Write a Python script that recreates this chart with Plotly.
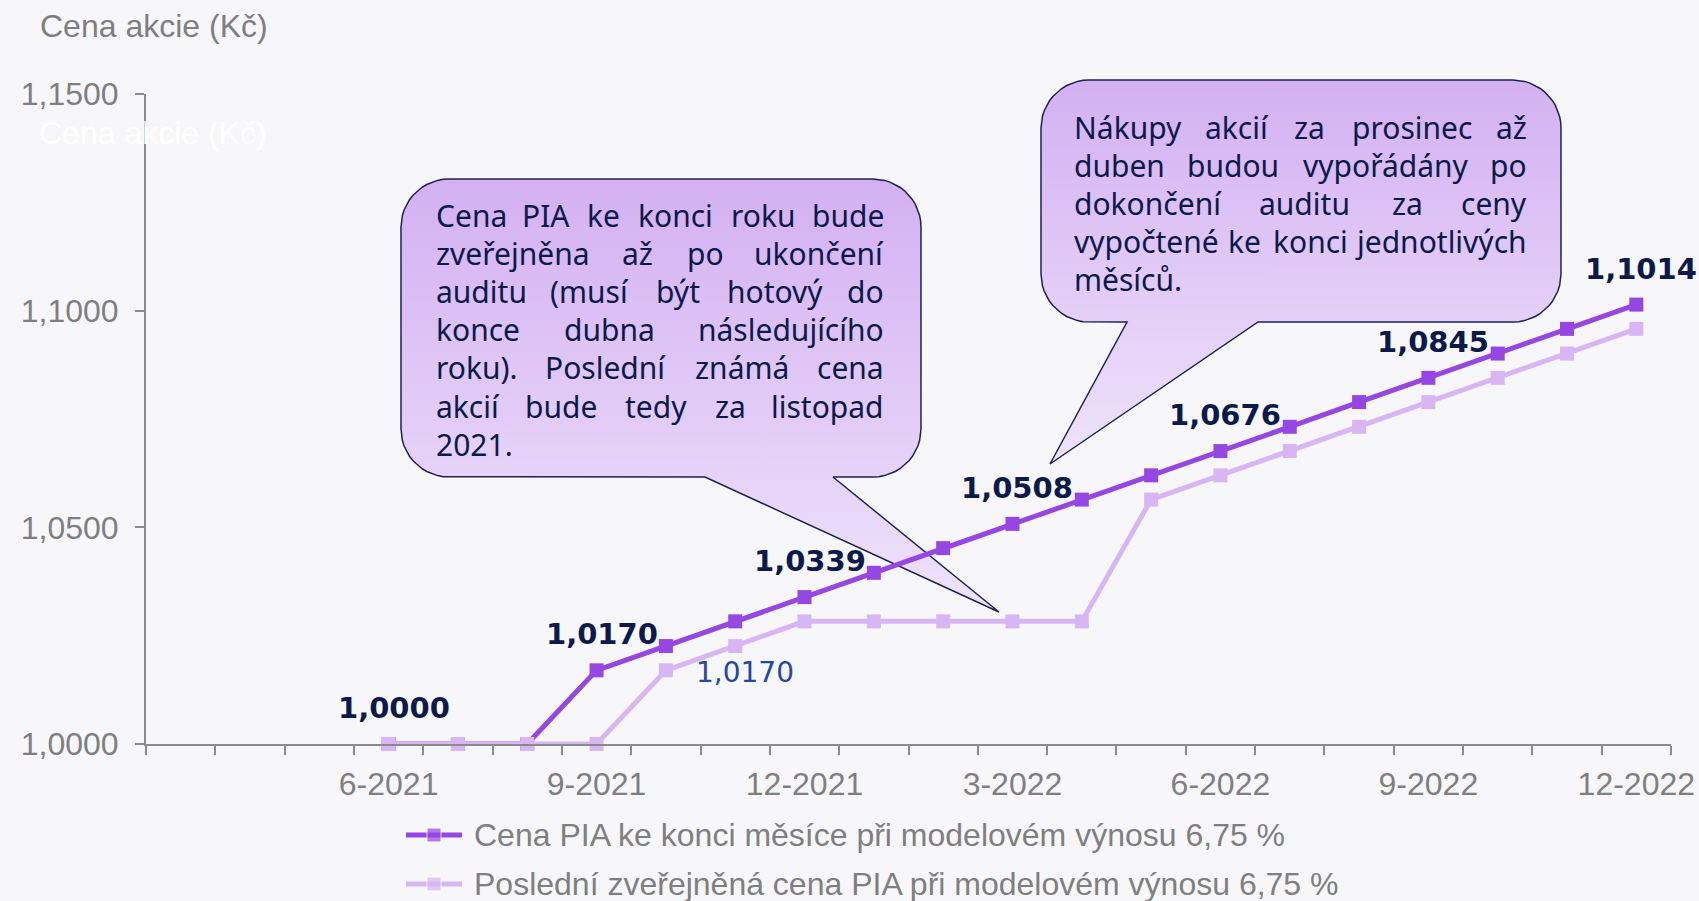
import numpy as np
import plotly.graph_objects as go

# ---------------- data ----------------
months = ["3-2021", "4-2021", "5-2021", "6-2021", "7-2021", "8-2021", "9-2021",
          "10-2021", "11-2021", "12-2021", "1-2022", "2-2022", "3-2022", "4-2022",
          "5-2022", "6-2022", "7-2022", "8-2022", "9-2022", "10-2022", "11-2022", "12-2022"]
price_month_end = [None, None, None, 1.0000, 1.0000, 1.0000, 1.0170, 1.0226, 1.0283,
                   1.0339, 1.0395, 1.0452, 1.0508, 1.0564, 1.0620, 1.0676, 1.0732,
                   1.0789, 1.0845, 1.0901, 1.0958, 1.1014]
price_published = [None, None, None, 1.0000, 1.0000, 1.0000, 1.0000, 1.0170, 1.0226,
                   1.0283, 1.0283, 1.0283, 1.0283, 1.0283, 1.0564, 1.0620, 1.0676,
                   1.0732, 1.0789, 1.0845, 1.0901, 1.0958]
tick_labels = ["6-2021", "9-2021", "12-2021", "3-2022", "6-2022", "9-2022", "12-2022"]
y_ticks = [1.0, 1.05, 1.10, 1.15]
labeled_month_end = ["6-2021", "9-2021", "12-2021", "3-2022", "6-2022", "9-2022", "12-2022"]
labeled_published = ["10-2021"]

name_month_end = "Cena PIA ke konci měsíce při modelovém výnosu 6,75 %"
name_published = "Poslední zveřejněná cena PIA při modelovém výnosu 6,75 %"
axis_title = "Cena akcie (Kč)"

callout1_lines = [
    "Cena PIA ke konci roku bude",
    "zveřejněna až po ukončení",
    "auditu (musí být hotový do",
    "konce dubna následujícího",
    "roku). Poslední známá cena",
    "akcií bude tedy za listopad",
    "2021.",
]
callout2_lines = [
    "Nákupy akcií za prosinec až",
    "duben budou vypořádány po",
    "dokončení auditu za ceny",
    "vypočtené ke konci jednotlivých",
    "měsíců.",
]

# ---------------- styles / geometry ----------------
W, H = 1699, 901
BG = "#f7f7f9"
PURPLE = "#9646e2"
LAVENDER = "#d8b6f4"
NAVY = "#0c1a4b"
GREY = "#7f7f7f"
AXIS = "#8a8a8a"
SANS = "Liberation Sans, Arial, sans-serif"
CALLOUT_FONT = "Noto Sans"
CALLOUT_SIZE = 30
PLOT_L, PLOT_R, PLOT_T, PLOT_B = 146, 1671, 94, 744

C1 = dict(x0=401, y0=179, x1=921, y1=477, r=48, bl=705, br=833, tip=(999, 612),
          tl=434, tr=886, ty=215, dy=38.2)
C2 = dict(x0=1041, y0=80, x1=1561, y1=322, r=48, bl=1127, br=1258, tip=(1050, 464),
          tl=1072, tr=1529, ty=127, dy=38.2)

LEG_ROWS = [835, 884]
LEG_X0, LEG_X1, LEG_TEXT = 406, 462, 472

# approximate advance widths (em) of the callout font, used to justify lines
EM = {' ': .26, '.': .268, '(': .296, ')': .296, '0': .572, '1': .572, '2': .572,
      'C': .632, 'N': .742, 'P': .603, 'I': .294, 'A': .639,
      'a': .561, 'á': .561, 'b': .613, 'c': .480, 'č': .480, 'd': .613, 'e': .561,
      'é': .561, 'ě': .561, 'h': .613, 'i': .258, 'í': .258, 'j': .258, 'k': .534,
      'l': .258, 'm': .932, 'n': .613, 'o': .603, 'p': .613, 'r': .411, 'ř': .411,
      's': .465, 't': .352, 'u': .613, 'ů': .613, 'v': .508, 'y': .508, 'ý': .508,
      'z': .479, 'ž': .479}


def text_w(s):
    return sum(EM.get(ch, .56) for ch in s) * CALLOUT_SIZE


def callout_path(c, n=14):
    xs, ys = [], []
    r = c["r"]

    def arc(cx, cy, a0, a1):
        t = np.radians(np.linspace(a0, a1, n))
        xs.extend(cx + r * np.cos(t))
        ys.extend(cy - r * np.sin(t))

    arc(c["x1"] - r, c["y0"] + r, 90, 0)
    arc(c["x1"] - r, c["y1"] - r, 0, -90)
    xs.extend([c["br"], c["tip"][0], c["bl"]])
    ys.extend([c["y1"], c["tip"][1], c["y1"]])
    arc(c["x0"] + r, c["y1"] - r, -90, -180)
    arc(c["x0"] + r, c["y0"] + r, 180, 90)
    xs.append(xs[0])
    ys.append(ys[0])
    return xs, ys


fig = go.Figure()

# callout bubbles (pixel-frame subplot, drawn beneath the data subplot)
for c in (C1, C2):
    xs, ys = callout_path(c)
    fig.add_trace(go.Scatter(
        x=xs, y=ys, mode="lines", fill="toself",
        fillgradient=dict(type="vertical", colorscale=[[0, "#d4b0f2"], [1, "#eee3fb"]],
                          start=c["y0"], stop=c["tip"][1]),
        line=dict(color="#1b2252", width=1.5),
        xaxis="x", yaxis="y", showlegend=False, hoverinfo="skip"))

xi = list(range(len(months)))

series = [(name_month_end, price_month_end, PURPLE), (name_published, price_published, LAVENDER)]
for name, vals, col in series:
    fig.add_trace(go.Scatter(
        x=xi, y=vals, name=name, mode="lines+markers",
        line=dict(color=col, width=5), marker=dict(symbol="square", size=14, color=col),
        xaxis="x2", yaxis="y2", hoverinfo="skip", cliponaxis=False, showlegend=False))

annotations = []

# legend (drawn manually so the symbol length and row spacing match)
for (name, vals, col), ry in zip(series, LEG_ROWS):
    fig.add_trace(go.Scatter(
        x=[LEG_X0, (LEG_X0 + LEG_X1) / 2, LEG_X1], y=[ry, ry, ry], mode="lines+markers",
        line=dict(color=col, width=5), marker=dict(symbol="square", size=[0, 14, 0], color=col),
        xaxis="x", yaxis="y", showlegend=False, hoverinfo="skip"))
    annotations.append(dict(x=LEG_TEXT, y=ry, xref="x", yref="y", text=name, showarrow=False,
                            xanchor="left", yanchor="middle",
                            font=dict(family=SANS, size=32, color=GREY)))


def fmt(v):
    return f"{v:.4f}".replace(".", ",")


for m in labeled_month_end:
    i = months.index(m)
    annotations.append(dict(
        x=i, y=price_month_end[i], xref="x2", yref="y2", text=fmt(price_month_end[i]),
        showarrow=False, xanchor="center", yanchor="middle", xshift=5, yshift=36,
        font=dict(family="DejaVu Sans", size=29, color=NAVY, weight="bold")))
for m in labeled_published:
    i = months.index(m)
    annotations.append(dict(
        x=i, y=price_published[i], xref="x2", yref="y2", text=fmt(price_published[i]),
        showarrow=False, xanchor="left", yanchor="middle", xshift=28, yshift=-2,
        font=dict(family="DejaVu Sans", size=28, color="#2446a6")))

# callout texts, justified word by word (last line left aligned)
for lines, c in ((callout1_lines, C1), (callout2_lines, C2)):
    for k, line in enumerate(lines):
        y = c["ty"] + k * c["dy"]
        words = line.split(" ")
        font = dict(family=CALLOUT_FONT, size=CALLOUT_SIZE, color=NAVY)
        if k == len(lines) - 1 or len(words) == 1:
            annotations.append(dict(x=c["tl"], y=y, xref="x", yref="y", text=line,
                                    showarrow=False, xanchor="left", yanchor="middle", font=font))
            continue
        widths = [text_w(w) for w in words]
        gap = (c["tr"] - c["tl"] - sum(widths)) / (len(words) - 1)
        pos = c["tl"]
        for j, (w, ww) in enumerate(zip(words, widths)):
            if j == 0:
                x, anc = c["tl"], "left"
            elif j == len(words) - 1:
                x, anc = c["tr"], "right"
            else:
                x, anc = pos + ww / 2, "center"
            annotations.append(dict(x=x, y=y, xref="x", yref="y", text=w, showarrow=False,
                                    xanchor=anc, yanchor="middle", font=font))
            pos += ww + gap

annotations.append(dict(x=38, y=26, xref="x", yref="y", text=axis_title, showarrow=False,
                        xanchor="left", yanchor="middle", font=dict(family=SANS, size=32, color=GREY)))
annotations.append(dict(x=37, y=133, xref="x", yref="y", text=axis_title, showarrow=False,
                        xanchor="left", yanchor="middle", font=dict(family=SANS, size=32, color="#ffffff")))

fig.update_layout(
    template="none",
    width=W, height=H, autosize=False, margin=dict(l=0, r=0, t=0, b=0, pad=0),
    paper_bgcolor=BG, plot_bgcolor="rgba(0,0,0,0)", separators=", ",
    font=dict(family=SANS, size=32, color=GREY),
    showlegend=False,
    xaxis=dict(domain=[0, 1], range=[0, W], visible=False, fixedrange=True, automargin=False),
    yaxis=dict(domain=[0, 1], range=[H, 0], visible=False, fixedrange=True, automargin=False),
    xaxis2=dict(
        domain=[PLOT_L / W, PLOT_R / W], anchor="y2", range=[-0.5, len(months) - 0.5],
        tickmode="array", tickvals=[months.index(t) for t in tick_labels], ticktext=tick_labels,
        ticks="", showline=True, linecolor=AXIS, linewidth=2, showgrid=False, zeroline=False,
        tickfont=dict(family=SANS, size=32, color=GREY), ticklabelstandoff=11,
        minor=dict(ticks="outside", ticklen=9, tickwidth=2, tickcolor=AXIS,
                   tickmode="linear", tick0=-0.5, dtick=1, showgrid=False),
        fixedrange=True, automargin=False),
    yaxis2=dict(
        domain=[(H - PLOT_B) / H, (H - PLOT_T) / H], anchor="x2", range=[1.0, 1.15],
        tickmode="array", tickvals=y_ticks, tickformat=".4f",
        ticks="outside", ticklen=9, tickwidth=2, tickcolor=AXIS,
        showline=True, linecolor=AXIS, linewidth=2, showgrid=False, zeroline=False,
        tickfont=dict(family=SANS, size=32, color=GREY), ticklabelstandoff=10,
        fixedrange=True, automargin=False),
    annotations=annotations,
)

fig.write_html("out.html", config={"displayModeBar": False},
               post_script="document.body.style.margin='0';document.body.style.overflow='hidden';")
